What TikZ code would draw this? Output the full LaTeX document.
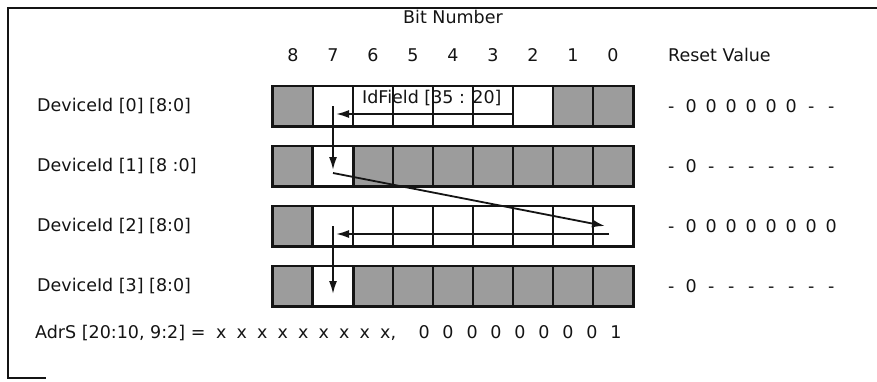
\documentclass[tikz,border=0pt]{standalone}
\usepackage{fontspec}
\setmainfont{DejaVu Sans}
\usetikzlibrary{arrows.meta,calc}
\definecolor{ink}{HTML}{141414}
\definecolor{shade}{HTML}{9C9C9C}
\newcommand\bitrow[2]{\foreach \ch in #2{\makebox[#1]{\ch}}}

\begin{document}
\begin{tikzpicture}[x=1pt,y=-1pt,text=ink,
    >={Latex[length=13pt,width=8pt]},
    lbl/.style={font=\fontsize{17.5}{20}\selectfont,inner sep=0pt},
    cell/.style={draw=ink,line width=1.4pt,minimum width=40pt,
                 minimum height=39pt,inner sep=0pt},
    rowbox/.style={draw=ink,line width=2.6pt},
    flow/.style={draw=ink,line width=1.8pt}]
  \useasboundingbox (0,0) rectangle (877,381);
  \draw[ink,line width=1.6pt] (877,8)--(8,8)--(8,378)--(46,378);
  \node[lbl] (title) at (453,17) {Bit Number};
  \foreach \b in {0,...,8}
    \node[lbl] (n\b) at ({613-40*\b},55) {\b};
  \node[lbl,anchor=west] (reset) at (668,55) {Reset Value};

  \foreach \r/\y/\txt/\pat/\bits in {
      0/106/{[8:0]}/{shade,white,white,white,white,white,white,shade,shade}/{-,0,0,0,0,0,0,-,-},
      1/166/{[8 :0]}/{shade,white,shade,shade,shade,shade,shade,shade,shade}/{-,0,-,-,-,-,-,-,-},
      2/226/{[8:0]}/{shade,white,white,white,white,white,white,white,white}/{-,0,0,0,0,0,0,0,0},
      3/286/{[8:0]}/{shade,white,shade,shade,shade,shade,shade,shade,shade}/{-,0,-,-,-,-,-,-,-}}
  {
    \node[lbl,anchor=west] (l\r) at (37,\y) {DeviceId [\r] \txt};
    \foreach \f [count=\i] in \pat {
      \pgfmathtruncatemacro\b{9-\i}
      \node[cell,fill=\f] (c\r-\b) at ({253+40*\i},\y) {};
    }
    \draw[rowbox] (c\r-8.north west) rectangle (c\r-0.south east);
    \node[lbl,anchor=west] (rv\r) at (661,\y) {\bitrow{20pt}{\bits}};
  }
  \draw[rowbox] (c1-7.north west) rectangle (c1-7.south east);
  \draw[rowbox] (c2-7.north west) rectangle (c2-0.south east);
  \draw[rowbox] (c3-7.north west) rectangle (c3-7.south east);

  \node[lbl,anchor=west] (idfield) at (362,98) {IdField [35 : 20]};

  \coordinate (p0) at ($(c0-3.east)+(0,8)$);
  \coordinate (p1) at ($(c0-7.center)+(0,8)$);
  \coordinate (p2) at ($(c1-7.center)+(0,4)$);
  \coordinate (p3) at ($(c1-7.center)+(0,7)$);
  \coordinate (p4) at ($(c2-0.center)+(-8,0)$);
  \coordinate (p5) at ($(c2-0.center)+(-4,8)$);
  \coordinate (p6) at ($(c2-7.center)+(0,8)$);
  \coordinate (p7) at ($(c3-7.center)+(0,8)$);
  \draw[flow,->,shorten >=3pt] (p0) -- (p1);
  \draw[flow,->] (c0-7.center) -- (p2);
  \draw[flow,->] (p3) -- (p4);
  \draw[flow,->,shorten >=3pt] (p5) -- (p6);
  \draw[flow,->] (c2-7.center) -- (p7);

  \node[lbl,anchor=west] (adrs) at (35,333)
    {AdrS [20:10, 9:2] =\ \bitrow{20.5pt}{{x,x,x,x,x,x,x,x,x}}\kern-5pt,%
     \hspace{16pt}\bitrow{24pt}{{0,0,0,0,0,0,0,0,1}}};
\end{tikzpicture}
\end{document}
